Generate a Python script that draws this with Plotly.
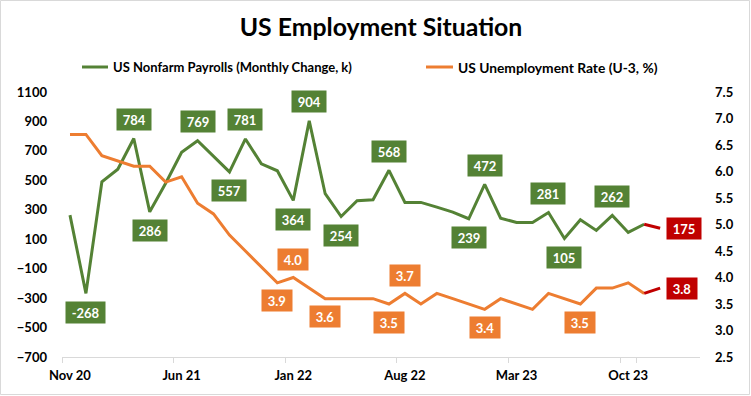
import plotly.graph_objects as go

months = ["Nov 20", "Dec 20", "Jan 21", "Feb 21", "Mar 21", "Apr 21", "May 21", "Jun 21",
          "Jul 21", "Aug 21", "Sep 21", "Oct 21", "Nov 21", "Dec 21", "Jan 22", "Feb 22",
          "Mar 22", "Apr 22", "May 22", "Jun 22", "Jul 22", "Aug 22", "Sep 22", "Oct 22",
          "Nov 22", "Dec 22", "Jan 23", "Feb 23", "Mar 23", "Apr 23", "May 23", "Jun 23",
          "Jul 23", "Aug 23", "Sep 23", "Oct 23", "Nov 23", "Dec 23"]
payrolls = [264, -268, 490, 575, 784, 286, 480, 690, 769, 660, 557, 781, 612, 565, 364, 904,
            409, 254, 361, 368, 568, 350, 350, 318, 284, 239, 472, 243, 214, 214, 281, 105,
            232, 160, 262, 146, 202, 175]
unemployment = [6.7, 6.7, 6.3, 6.2, 6.1, 6.1, 5.8, 5.9, 5.4, 5.2, 4.8, 4.5, 4.2, 3.9, 4.0, 3.8,
                3.6, 3.6, 3.6, 3.6, 3.5, 3.7, 3.5, 3.7, 3.6, 3.5, 3.4, 3.6, 3.5, 3.4, 3.7, 3.6,
                3.5, 3.8, 3.8, 3.9, 3.7, 3.8]
tick_labels = ["Nov 20", "Jun 21", "Jan 22", "Aug 22", "Mar 23", "Oct 23"]

payroll_labels_above = [4, 8, 11, 15, 20, 26, 30, 34]
payroll_labels_below = [1, 5, 10, 14, 17, 25, 31]
unemp_labels_above = [14, 21]
unemp_labels_below = [13, 16, 20, 26, 32]

name_pay = "US Nonfarm Payrolls (Monthly Change, k)"
name_unemp = "US Unemployment Rate (U-3, %)"

GREEN = "#548235"
ORANGE = "#ED7D31"
RED = "#C00000"
GRAY = "#D9D9D9"
FONT = "Lato"

fig = go.Figure()
fig.add_trace(go.Scatter(x=months[:-1], y=payrolls[:-1], mode="lines", name=name_pay,
                         line=dict(color=GREEN, width=3), showlegend=False))
fig.add_trace(go.Scatter(x=months[-2:], y=payrolls[-2:], mode="lines",
                         line=dict(color=RED, width=3), showlegend=False))
fig.add_trace(go.Scatter(x=months[:-1], y=unemployment[:-1], mode="lines", name=name_unemp,
                         yaxis="y2", line=dict(color=ORANGE, width=3), showlegend=False))
fig.add_trace(go.Scatter(x=months[-2:], y=unemployment[-2:], mode="lines", yaxis="y2",
                         line=dict(color=RED, width=3), showlegend=False))

L, T, W, H = 62, 92, 638, 265
def px(xp):
    return (xp - L) / W
def py(yp):
    return (T + H - yp) / H

ann = []
lab_font = dict(family=FONT, size=13, color="white", weight="bold")
def label(x, y, text, color, yref, yshift=0, xshift=0, xanchor="center"):
    ann.append(dict(x=x, y=y, xref="x", yref=yref, text="\u00a0" + text + "\u00a0",
                    showarrow=False, bgcolor=color, font=lab_font, borderpad=2.5,
                    xanchor=xanchor, yanchor="middle", yshift=yshift, xshift=xshift))

for i in payroll_labels_above:
    label(months[i], payrolls[i], str(payrolls[i]), GREEN, "y", yshift=19)
for i in payroll_labels_below:
    label(months[i], payrolls[i], str(payrolls[i]), GREEN, "y", yshift=-19)
for i in unemp_labels_above:
    label(months[i], unemployment[i], f"{unemployment[i]:.1f}", ORANGE, "y2", yshift=18)
for i in unemp_labels_below:
    label(months[i], unemployment[i], f"{unemployment[i]:.1f}", ORANGE, "y2", yshift=-18)
label(months[-1], payrolls[-1], str(payrolls[-1]), RED, "y", xshift=6, xanchor="left")
label(months[-1], unemployment[-1], f"{unemployment[-1]:.1f}", RED, "y2", xshift=6, xanchor="left")

# manual legend
leg_font = dict(family=FONT, size=13, color="black", weight="bold")
ann.append(dict(x=px(111), y=py(67), xref="paper", yref="paper", text=name_pay,
                showarrow=False, xanchor="left", yanchor="middle", font=leg_font))
ann.append(dict(x=px(456), y=py(67), xref="paper", yref="paper", text=name_unemp,
                showarrow=False, xanchor="left", yanchor="middle",
                font=dict(family=FONT, size=13.8, color="black", weight="bold")))

shapes = [
    dict(type="line", xref="paper", yref="paper", x0=px(82), x1=px(108), y0=py(67), y1=py(67),
         line=dict(color=GREEN, width=3)),
    dict(type="line", xref="paper", yref="paper", x0=px(426), x1=px(453), y0=py(67), y1=py(67),
         line=dict(color=ORANGE, width=3)),
    dict(type="rect", xref="paper", yref="paper", x0=px(0.5), x1=px(749.5), y0=py(394.5), y1=py(0.5),
         line=dict(color=GRAY, width=1)),
]

tick_font = dict(family=FONT, size=13, color="black", weight="bold")
fig.update_layout(
    width=751, height=396,
    margin=dict(l=L, r=751 - L - W, t=T, b=396 - T - H, pad=0, autoexpand=False),
    paper_bgcolor="white", plot_bgcolor="white",
    title=dict(text="US Employment Situation", x=0.5, xref="paper", xanchor="center",
               y=1 - 27 / 396, yref="container", yanchor="middle",
               font=dict(family=FONT, size=24.8, color="black", weight="bold")),
    xaxis=dict(type="category", categoryorder="array", categoryarray=months,
               range=[-0.5, 39.5], tickmode="array", tickvals=tick_labels, ticktext=tick_labels,
               tickson="boundaries", ticks="outside", ticklen=5, tickcolor=GRAY, tickangle=0,
               showline=True, linecolor=GRAY, linewidth=1, showgrid=False, zeroline=False,
               tickfont=tick_font, ticklabelstandoff=6, automargin=False),
    yaxis=dict(range=[-700, 1100], tick0=-700, dtick=200, showgrid=False, zeroline=False,
               showline=False, ticks="", tickfont=tick_font, ticklabelstandoff=14,
               automargin=False),
    yaxis2=dict(range=[2.5, 7.5], tick0=2.5, dtick=0.5, tickformat=".1f", overlaying="y",
                side="right", showgrid=False, zeroline=False, showline=False, ticks="",
                tickfont=tick_font, ticklabelstandoff=14, automargin=False),
    annotations=ann, shapes=shapes, showlegend=False,
)

fig.write_html("out.html", config={"displayModeBar": False},
               post_script="document.body.style.margin='0';document.body.style.padding='0';")
